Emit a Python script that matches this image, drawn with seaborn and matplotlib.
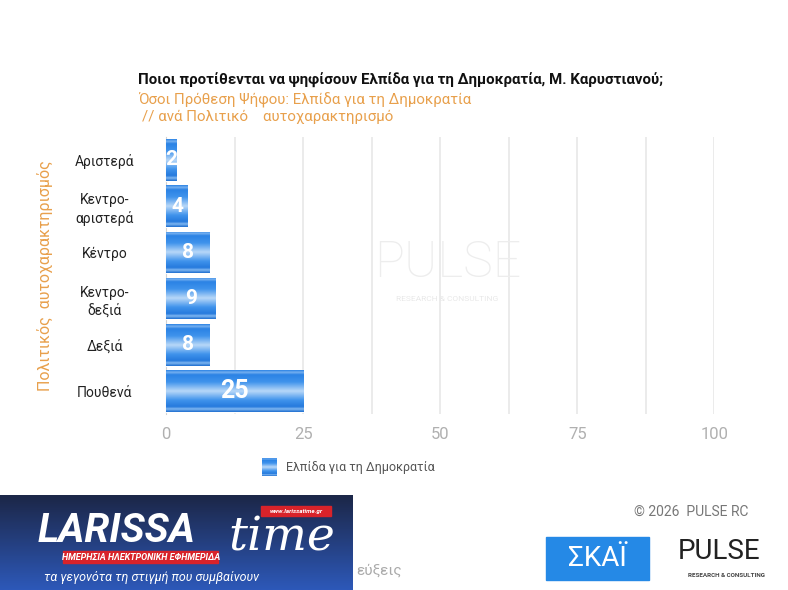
import numpy as np
import pandas as pd
import matplotlib.pyplot as plt
import seaborn as sns
from matplotlib.colors import LinearSegmentedColormap
from matplotlib.patches import Rectangle

categories = ["Αριστερά", "Κεντρο-\nαριστερά", "Κέντρο", "Κεντρο-\nδεξιά", "Δεξιά", "Πουθενά"]
values = [2, 4, 8, 9, 8, 25]
series_name = "Ελπίδα για τη Δημοκρατία"
xticks = [0, 25, 50, 75, 100]

df = pd.DataFrame({"cat": categories, "val": values})

sns.set_style("white")
plt.rcParams["font.family"] = ["Roboto", "DejaVu Sans"]

fig = plt.figure(figsize=(7.88, 5.9), dpi=100)
ax = fig.add_axes([0.2107, 0.298, 0.696, 0.470])

sns.barplot(data=df, x="val", y="cat", orient="h", color="#3d8fe8", width=0.9, ax=ax, zorder=3)

# gradient fill on each bar
grad_cmap = LinearSegmentedColormap.from_list("bar", [
    (0.0, "#2a82e4"), (0.05, "#7fb6f2"), (0.1, "#2a82e4"), (0.28, "#3f93ec"),
    (0.5, "#b9d8f8"), (0.72, "#3f93ec"), (0.88, "#2479dc"), (0.93, "#86bbf3"), (1.0, "#1e6fd0")])
grad = np.linspace(0, 1, 100).reshape(-1, 1)
for p in list(ax.patches):
    x0, y0, w, h = p.get_x(), p.get_y(), p.get_width(), p.get_height()
    im = ax.imshow(grad, extent=[x0, x0 + w, y0 + h, y0], aspect="auto", cmap=grad_cmap,
                   zorder=4, interpolation="bicubic")
    im.set_clip_path(p)
    ax.text(x0 + w / 2, y0 + h / 2, f"{int(w)}", ha="center", va="center", color="white",
            fontweight="bold", fontsize=18 if w >= 20 else 15, zorder=5)

ax.set_xlim(0, 100)
ax.set_ylim(5.5, -0.5)
ax.set_xticks(xticks)
ax.set_xticks(np.arange(0, 101, 12.5), minor=True)
ax.grid(axis="x", which="both", color="#e8e8e8", linewidth=1.2, zorder=0)
ax.set_axisbelow(True)
ax.tick_params(axis="x", which="both", length=0, colors="#b0b0b0", labelsize=12, pad=9)
ax.tick_params(axis="y", length=0, labelsize=10, colors="#222222")
for lbl in ax.get_yticklabels():
    lbl.set_horizontalalignment("center")
    lbl.set_linespacing(1.3)
ax.yaxis.set_tick_params(pad=44)
for s in ["top", "right", "bottom"]:
    ax.spines[s].set_visible(False)
ax.spines["left"].set_color("#d0d0d0")
ax.spines["left"].set_bounds(-0.5, 5.5)
ax.set_xlabel("")
ax.set_ylabel("Πολιτικός  αυτοχαρακτηρισμός", color="#e8a04c", fontsize=11.5, labelpad=16)

# watermark
fig.text(0.568, 0.553, "PULSE", fontsize=36, color="#ededed", ha="center", va="center", zorder=1,
         fontweight="light")
fig.text(0.568, 0.493, "RESEARCH & CONSULTING", fontsize=6, color="#e8e8e8", ha="center", va="center")

# titles
fig.text(0.175, 0.864, "Ποιοι προτίθενται να ψηφίσουν Ελπίδα για τη Δημοκρατία, Μ. Καρυστιανού;",
         fontsize=10.8, fontweight="bold", color="#111111", va="center")
fig.text(0.175, 0.831, "Όσοι Πρόθεση Ψήφου: Ελπίδα για τη Δημοκρατία", fontsize=10.8,
         color="#e8a04c", va="center")
fig.text(0.18, 0.802, "// ανά Πολιτικό    αυτοχαρακτηρισμό", fontsize=10.8,
         color="#e8a04c", va="center")

# legend
leg_ax = fig.add_axes([0.332, 0.194, 0.019, 0.03])
leg_ax.imshow(grad, aspect="auto", cmap=grad_cmap, extent=[0, 1, 1, 0])
leg_ax.axis("off")
fig.text(0.363, 0.207, series_name, fontsize=9, color="#555555", va="center")

# footer
fig.text(0.805, 0.132, "© 2026  PULSE RC", fontsize=10, color="#777777", va="center")
fig.text(0.452, 0.033, "εύξεις", fontsize=11, color="#aaaaaa", va="center")

# LARISSA time logo box
logo = fig.add_axes([0.0, 0.0, 0.447, 0.161])
logo.imshow(np.linspace(0, 1, 50).reshape(-1, 1), aspect="auto",
            cmap=LinearSegmentedColormap.from_list("lg", ["#1c2748", "#2d58b8"]), extent=[0, 1, 0, 1])
logo.set_xlim(0, 1)
logo.set_ylim(0, 1)
logo.axis("off")
logo.text(0.33, 0.62, "LARISSA", fontsize=29, fontweight="bold", fontstyle="italic", color="white",
          ha="center", va="center")
logo.text(0.80, 0.55, "time", fontsize=34, fontstyle="italic", color="white", ha="center", va="center",
          family=["DejaVu Serif"])
logo.add_patch(Rectangle((0.18, 0.28), 0.44, 0.13, color="#d8232a"))
logo.text(0.40, 0.345, "ΗΜΕΡΗΣΙΑ ΗΛΕΚΤΡΟΝΙΚΗ ΕΦΗΜΕΡΙΔΑ", fontsize=6.5, fontweight="bold",
          fontstyle="italic", color="white", ha="center", va="center")
logo.add_patch(Rectangle((0.74, 0.78), 0.2, 0.1, color="#d8232a"))
logo.text(0.84, 0.83, "www.larissatime.gr", fontsize=4.5, fontweight="bold", fontstyle="italic",
          color="white", ha="center", va="center")
logo.text(0.43, 0.13, "τα γεγονότα τη στιγμή που συμβαίνουν", fontsize=9, fontstyle="italic",
          color="white", ha="center", va="center")

# SKAI logo
fig.patches.append(Rectangle((0.693, 0.017), 0.13, 0.073, transform=fig.transFigure,
                             color="#2589e6", figure=fig))
fig.text(0.758, 0.054, "ΣΚΑΪ", fontsize=20, color="white", ha="center", va="center")
# PULSE logo
fig.text(0.913, 0.066, "PULSE", fontsize=20, color="#222222", ha="center", va="center")
fig.text(0.922, 0.024, "RESEARCH & CONSULTING", fontsize=4.5, fontweight="bold", color="#444444",
         ha="center", va="center")

fig.savefig("out.png", dpi=100)
